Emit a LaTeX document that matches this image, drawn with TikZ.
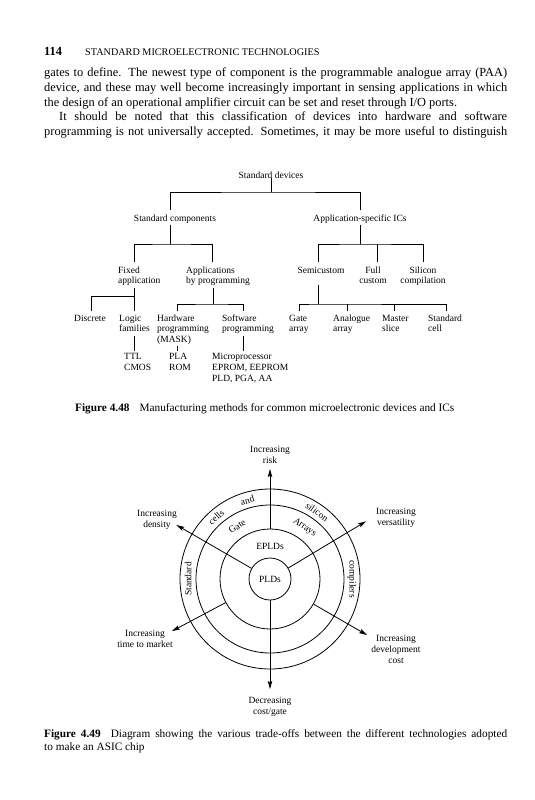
\documentclass[tikz,border=0pt]{standalone}
\usepackage{fontspec}
\setmainfont{Liberation Serif}
\usetikzlibrary{arrows.meta,calc}
\begin{document}
\begin{tikzpicture}[x=1pt,y=-1pt,
  bodytext/.style={anchor=base west,inner sep=0pt,font=\fontsize{12.4}{15}\selectfont},
  lab/.style={inner sep=0pt,font=\fontsize{9.5}{11}\selectfont},
  labw/.style={lab,anchor=base west},
  labc/.style={lab,anchor=base},
  figcap/.style={anchor=base west,inner sep=0pt,font=\fontsize{11.3}{13}\selectfont},
  tline/.style={line width=0.8pt},
  arr/.style={line width=0.8pt,-{Stealth[length=8pt,width=4.5pt,inset=1.5pt]}},
  ringnode/.style={circle,draw,line width=0.8pt,inner sep=0pt}
]
\useasboundingbox[fill=white] (0,0) rectangle (535,800);

% ---------- running head and text ----------
\node[bodytext,font=\fontsize{12.4}{15}\selectfont\bfseries] (pg) at (44,56) {114};
\node[anchor=base west,inner sep=0pt,font=\fontsize{10.2}{12}\selectfont] (hd) at (85,56) {STANDARD MICROELECTRONIC TECHNOLOGIES};
\node[bodytext] (t1) at (44,77) {\makebox[463pt][s]{gates to define. The newest type of component is the programmable analogue array (PAA)}};
\node[bodytext] (t2) at (44,91.5) {\makebox[463pt][s]{device, and these may well become increasingly important in sensing applications in which}};
\node[bodytext] (t3) at (44,106) {the design of an operational amplifier circuit can be set and reset through I/O ports.};
\node[bodytext] (t4) at (59,120.5) {\makebox[448pt][s]{It should be noted that this classification of devices into hardware and software}};
\node[bodytext] (t5) at (44,135) {\makebox[463pt][s]{programming is not universally accepted. Sometimes, it may be more useful to distinguish}};

% ---------- Figure 4.48 tree ----------
\node[labc] (sd) at (271,178) {Standard devices};
\node[labc] (sc) at (175,221) {Standard components};
\node[labc] (as) at (360,221) {Application-specific ICs};
\coordinate (j0) at (271,192);
\coordinate (scT) at (170,210);
\coordinate (asT) at (360,210);
\draw[tline] (sd.south) -- (j0);
\draw[tline] (scT) |- (j0) -| (asT);

\node[labw] (fx1) at (118,273) {Fixed};
\node[labw] (fx2) at (118,283.5) {application};
\node[labw] (ap1) at (186,273) {Applications};
\node[labw] (ap2) at (186,283.5) {by programming};
\node[labc] (semi) at (321,273) {Semicustom};
\node[labc] (fc1) at (373,273) {Full};
\node[labc] (fc2) at (373,283.5) {custom};
\node[labc] (si1) at (423,273) {Silicon};
\node[labc] (si2) at (423,283.5) {compilation};

\coordinate (scB) at (170,225);
\coordinate (j1) at (170,244);
\coordinate (fxT) at (134,262);
\coordinate (apT) at (212,262);
\draw[tline] (scB) -- (j1);
\draw[tline] (fxT) |- (j1) -| (apT);

\coordinate (asB) at (360,225);
\coordinate (j2) at (360,244);
\coordinate (semiT) at (318,262);
\coordinate (fcT) at (377,262);
\coordinate (siT) at (423,262);
\draw[tline] (asB) -- (j2);
\draw[tline] (semiT) |- (j2) -| (siT);
\draw[tline] (fcT) -- (fcT |- j2);

\node[labw] (dis) at (74,321) {Discrete};
\node[labw] (lo1) at (119,321) {Logic};
\node[labw] (lo2) at (119,331.5) {families};
\node[labw] (hw1) at (157,321) {Hardware};
\node[labw] (hw2) at (157,331.5) {programming};
\node[labw] (hw3) at (157,342) {(MASK)};
\node[labw] (sw1) at (222,321) {Software};
\node[labw] (sw2) at (222,331.5) {programming};
\node[labw] (ga1) at (289,321) {Gate};
\node[labw] (ga2) at (289,331.5) {array};
\node[labw] (an1) at (333,321) {Analogue};
\node[labw] (an2) at (333,331.5) {array};
\node[labw] (ms1) at (382,321) {Master};
\node[labw] (ms2) at (382,331.5) {slice};
\node[labw] (st1) at (428,321) {Standard};
\node[labw] (st2) at (428,331.5) {cell};

\coordinate (fxB) at (134,288);
\coordinate (j3) at (134,296);
\coordinate (disT) at (91,311);
\coordinate (loT) at (134,311);
\draw[tline] (fxB) -- (loT);
\draw[tline] (disT) |- (j3);
\coordinate (apB) at (213,288);
\coordinate (j4) at (213,304);
\coordinate (hwT) at (177,311);
\coordinate (swT) at (243,311);
\draw[tline] (apB) -- (j4);
\draw[tline] (hwT) |- (j4) -| (swT);
\coordinate (semiB) at (318,285);
\coordinate (j5) at (318,304);
\coordinate (gaT) at (299,311);
\coordinate (anT) at (347,311);
\coordinate (msT) at (394,311);
\coordinate (stT) at (446,311);
\draw[tline] (semiB) -- (j5);
\draw[tline] (gaT) |- (j5) -| (stT);
\draw[tline] (anT) -- (anT |- j5);
\draw[tline] (msT) -- (msT |- j5);

\node[labw] (ttl) at (124,359.5) {TTL};
\node[labw] (cmos) at (124,370.5) {CMOS};
\node[labw] (pla) at (169,359.5) {PLA};
\node[labw] (rom) at (169,370.5) {ROM};
\node[labw] (mp1) at (212,359.5) {Microprocessor};
\node[labw] (mp2) at (212,370.5) {EPROM, EEPROM};
\node[labw] (mp3) at (212,381.5) {PLD, PGA, AA};
\coordinate (loB) at (134,336);
\coordinate (ttlT) at (134,351);
\draw[tline] (loB) -- (ttlT);
\coordinate (hwB) at (177,346);
\coordinate (plaT) at (177,351);
\draw[tline] (hwB) -- (plaT);
\coordinate (swB) at (243,336);
\coordinate (mpT) at (243,351);
\draw[tline] (swB) -- (mpT);

\node[figcap] (capA) at (75,411) {\textbf{Figure 4.48}\hspace{10pt}Manufacturing methods for common microelectronic devices and ICs};

% ---------- Figure 4.49 circle ----------
\coordinate (cen) at (270,579);
\node[ringnode,minimum size=42pt,font=\fontsize{9.5}{11}\selectfont] (c1) at (cen) {PLDs};
\node[ringnode,minimum size=100pt] (c2) at (cen) {};
\node[ringnode,minimum size=148pt] (c3) at (cen) {};
\node[ringnode,minimum size=180pt] (c4) at (cen) {};

\node[lab] (epld) at (270,546) {EPLDs};
\node[lab,rotate=32] (gate) at ($(cen)+(122:62pt)$) {Gate};
\node[lab,rotate=-34] (arrays) at ($(cen)+(56:62pt)$) {Arrays};
\node[lab,rotate=90] (stdr) at ($(cen)+(180:82pt)$) {Standard};
\node[lab,rotate=41] (cells) at ($(cen)+(131:82pt)$) {cells};
\node[lab,rotate=16] (andw) at ($(cen)+(106:82pt)$) {and};
\node[lab,rotate=-35] (silicon) at ($(cen)+(55:82pt)$) {silicon};
\node[lab,rotate=-90] (compilers) at ($(cen)+(0:82pt)$) {compilers};

\coordinate (tU) at (270,469);
\coordinate (tD) at (270,689);
\coordinate (tUL) at ($(cen)+(150:108pt)$);
\coordinate (tUR) at ($(cen)+(31:112pt)$);
\coordinate (tLL) at ($(cen)+(208:111pt)$);
\coordinate (tLR) at ($(cen)+(330:112pt)$);
\draw[arr] (c2.90) -- (tU);
\draw[arr] (c1.270) -- (tD);
\draw[arr] (c1.150) -- (tUL);
\draw[arr] (c1.31) -- (tUR);
\draw[arr] (c2.208) -- (tLL);
\draw[arr] (c2.330) -- (tLR);

\node[labc] (risk1) at (270,452) {Increasing};
\node[labc] (risk2) at (270,463) {risk};
\node[labc] (den1) at (157,516) {Increasing};
\node[labc] (den2) at (157,527) {density};
\node[labc] (ver1) at (396,514) {Increasing};
\node[labc] (ver2) at (396,525) {versatility};
\node[labc] (tm1) at (145,636) {Increasing};
\node[labc] (tm2) at (145,647) {time to market};
\node[labc] (dc1) at (396,641) {Increasing};
\node[labc] (dc2) at (396,652) {development};
\node[labc] (dc3) at (396,663) {cost};
\node[labc] (cg1) at (270,703) {Decreasing};
\node[labc] (cg2) at (270,714) {cost/gate};

\node[figcap] (capB1) at (44,737) {\makebox[463pt][s]{\textbf{Figure 4.49}\hspace{10pt}Diagram showing the various trade-offs between the different technologies adopted}};
\node[figcap] (capB2) at (44,750) {to make an ASIC chip};
\end{tikzpicture}
\end{document}
